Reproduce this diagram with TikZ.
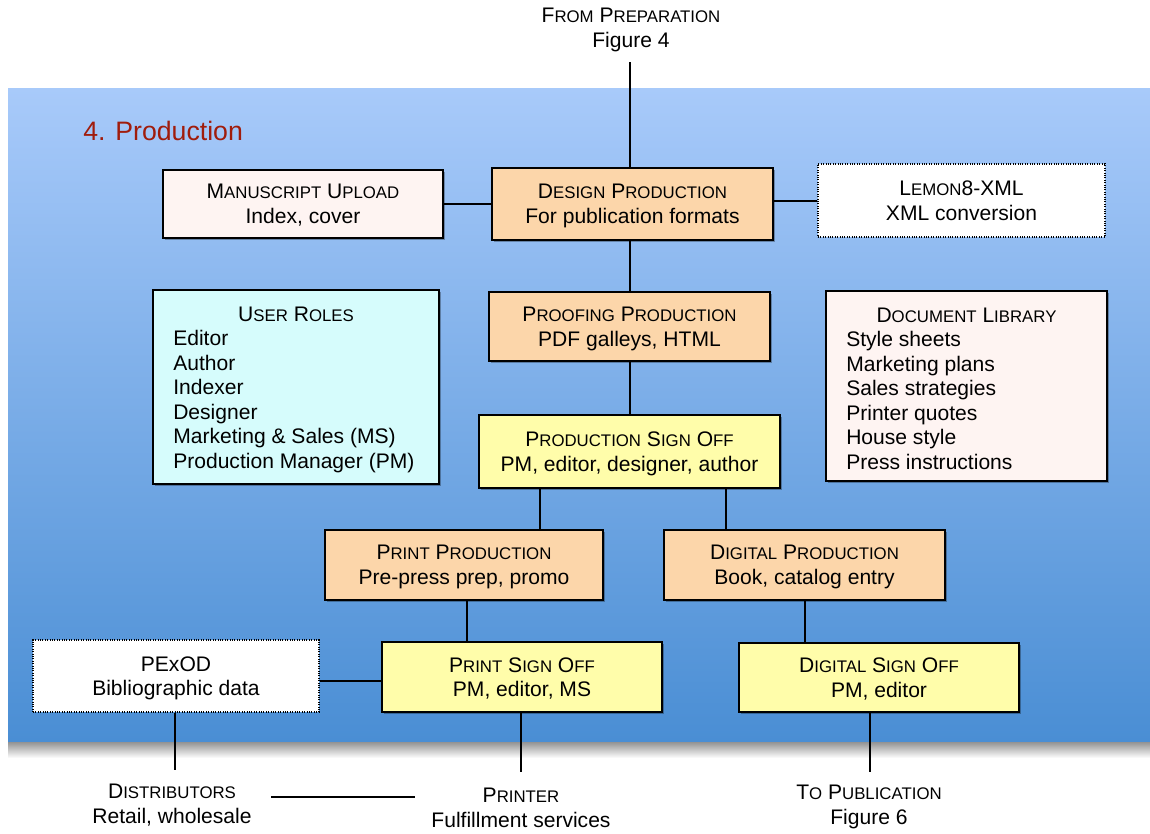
\documentclass[tikz,border=0pt]{standalone}
\usepackage{fontspec}
\setmainfont{Liberation Sans}
\usetikzlibrary{shadows}
\newlength\px
\setlength\px{0.75pt}
\newcommand\sk[1]{{\fontsize{12.6}{18.45}\selectfont #1}}
\definecolor{peach}{RGB}{252,214,170}
\definecolor{paleyellow}{RGB}{255,253,170}
\definecolor{palepink}{RGB}{254,244,242}
\definecolor{palecyan}{RGB}{214,252,252}
\definecolor{titlered}{RGB}{160,28,12}
\definecolor{bgtop}{RGB}{168,202,250}
\definecolor{bgbot}{RGB}{74,142,212}
\begin{document}
\begin{tikzpicture}[x=0.75pt,y=-0.75pt,
  txt/.style={font=\fontsize{15.8}{18.45}\selectfont, align=center, inner sep=0pt, text depth=0pt},
  box/.style={txt, draw=black, line width=1.5pt, drop shadow={shadow xshift=1.6pt, shadow yshift=-1.6pt, fill=black, opacity=0.3}},
  dotbox/.style={txt, draw=black, fill=white, line width=0.8pt, densely dotted},
  conn/.style={draw=black, line width=1.5pt},
  boxsize/.style 2 args={minimum width=#1\px, minimum height=#2\px}]
\useasboundingbox (0,0) rectangle (1150,833);
\fill[white] (0,0) rectangle (1150,833);
% background panel and its shadow
\shade[top color=black!45, bottom color=white] (8,741) rectangle (1150,758);
\shade[top color=bgtop, bottom color=bgbot] (8,88) rectangle (1150,741);
\node[anchor=west, font=\fontsize{20}{24}\selectfont, text=titlered, inner sep=0pt] (title) at (83,131) {4. Production};

% boxes
\node[box, fill=palepink, boxsize={280}{68}] (manu) at (303,204) {M\sk{ANUSCRIPT} U\sk{PLOAD}\\Index, cover};
\node[box, fill=peach, boxsize={281}{72}] (design) at (632.5,204) {D\sk{ESIGN} P\sk{RODUCTION}\\For publication formats};
\node[dotbox, boxsize={287}{73}] (lemon) at (961.5,200.5) {L\sk{EMON}8-XML\\XML conversion};
\node[box, fill=palecyan, boxsize={286}{194}] (roles) at (296,387) {};
\node[txt] (rolestitle) at (296,314) {U\sk{SER} R\sk{OLES}};
\node[txt, align=left, anchor=north west] (roleslist) at (173,330) {Editor\\Author\\Indexer\\Designer\\Marketing \& Sales (MS)\\Production Manager (PM)};
\node[box, fill=peach, boxsize={281}{69}] (proof) at (629.5,326.5) {P\sk{ROOFING} P\sk{RODUCTION}\\PDF galleys, HTML};
\node[box, fill=palepink, boxsize={281}{190}] (lib) at (966.5,386) {};
\node[txt] (libtitle) at (966.5,315) {D\sk{OCUMENT} L\sk{IBRARY}};
\node[txt, align=left, anchor=north west] (liblist) at (846,331) {Style sheets\\Marketing plans\\Sales strategies\\Printer quotes\\House style\\Press instructions};
\node[box, fill=paleyellow, boxsize={301}{73}] (pso) at (629.5,451.5) {P\sk{RODUCTION} S\sk{IGN} O\sk{FF}\\PM, editor, designer, author};
\node[box, fill=peach, boxsize={278}{70}] (printprod) at (464,565) {P\sk{RINT} P\sk{RODUCTION}\\Pre-press prep, promo};
\node[box, fill=peach, boxsize={281}{70}] (digprod) at (804.5,565) {D\sk{IGITAL} P\sk{RODUCTION}\\Book, catalog entry};
\node[dotbox, boxsize={286}{72}] (pexod) at (176,676) {PExOD\\Bibliographic data};
\node[box, fill=paleyellow, boxsize={280}{70}] (printso) at (522,677) {P\sk{RINT} S\sk{IGN} O\sk{FF}\\PM, editor, MS};
\node[box, fill=paleyellow, boxsize={280}{69}] (digso) at (879,677.5) {D\sk{IGITAL} S\sk{IGN} O\sk{FF}\\PM, editor};

% outside labels
\node[txt] (fromprep) at (631,28) {F\sk{ROM} P\sk{REPARATION}\\Figure 4};
\node[txt] (distr) at (172,803.5) {D\sk{ISTRIBUTORS}\\Retail, wholesale};
\node[txt] (printer) at (521,808) {P\sk{RINTER}\\Fulfillment services};
\node[txt] (topub) at (869,805) {T\sk{O} P\sk{UBLICATION}\\Figure 6};

% coordinates
\coordinate (top) at (630,62);
\coordinate (xa) at (540,0);
\coordinate (xb) at (726,0);
\coordinate (xc) at (467,0);
\coordinate (ya) at (0,681);
\coordinate (b1) at (175,770);
\coordinate (b2) at (521,772);
\coordinate (b3) at (870,772);
\coordinate (h1) at (271,797);
\coordinate (h2) at (415,797);

% connectors
\draw[conn] (top) -- (design.north -| top);
\draw[conn] (manu.east) -- (design.west);
\draw[conn] (design.east |- lemon.west) -- (lemon.west);
\draw[conn] (design.south -| top) -- (proof.north -| top);
\draw[conn] (proof.south -| top) -- (pso.north -| top);
\draw[conn] (pso.south -| xa) -- (printprod.north -| xa);
\draw[conn] (pso.south -| xb) -- (digprod.north -| xb);
\draw[conn] (printprod.south -| xc) -- (printso.north -| xc);
\draw[conn] (digprod.south) -- (digso.north -| digprod.south);
\draw[conn] (pexod.east |- ya) -- (printso.west |- ya);
\draw[conn] (pexod.south -| b1) -- (b1);
\draw[conn] (printso.south -| b2) -- (b2);
\draw[conn] (digso.south -| b3) -- (b3);
\draw[conn] (h1) -- (h2);
\end{tikzpicture}
\end{document}
